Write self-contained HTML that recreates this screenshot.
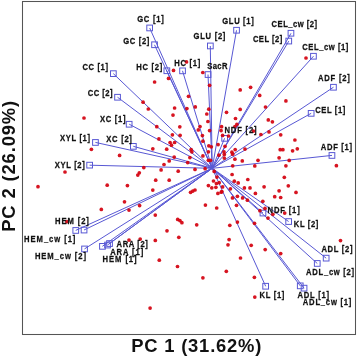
<!DOCTYPE html><html><head><meta charset="utf-8"><style>html,body{margin:0;padding:0;background:#fff;width:358px;height:356px;overflow:hidden}svg{display:block;will-change:transform}text{font-family:"Liberation Sans", sans-serif;font-weight:bold}</style></head><body>
<svg width="358" height="356" viewBox="0 0 358 356">
<rect x="0" y="0" width="358" height="356" fill="#fff"/>
<g stroke="#5858d4" stroke-width="1.0" fill="none">
<line x1="212.2" y1="168.3" x2="149.7" y2="28.0"/>
<line x1="212.2" y1="168.3" x2="154.5" y2="44.8"/>
<line x1="212.2" y1="168.3" x2="166.8" y2="70.7"/>
<line x1="212.2" y1="168.3" x2="182.5" y2="70.8"/>
<line x1="212.2" y1="168.3" x2="210.3" y2="46.0"/>
<line x1="212.2" y1="168.3" x2="208.0" y2="74.5"/>
<line x1="212.2" y1="168.3" x2="236.5" y2="30.3"/>
<line x1="212.2" y1="168.3" x2="291.0" y2="33.3"/>
<line x1="212.2" y1="168.3" x2="288.8" y2="41.1"/>
<line x1="212.2" y1="168.3" x2="313.5" y2="56.2"/>
<line x1="212.2" y1="168.3" x2="333.5" y2="87.2"/>
<line x1="212.2" y1="168.3" x2="311.2" y2="113.3"/>
<line x1="212.2" y1="168.3" x2="224.6" y2="138.3"/>
<line x1="212.2" y1="168.3" x2="332.0" y2="155.4"/>
<line x1="212.2" y1="168.3" x2="113.3" y2="73.6"/>
<line x1="212.2" y1="168.3" x2="117.5" y2="97.2"/>
<line x1="212.2" y1="168.3" x2="129.2" y2="124.2"/>
<line x1="212.2" y1="168.3" x2="133.3" y2="146.3"/>
<line x1="212.2" y1="168.3" x2="95.4" y2="142.4"/>
<line x1="212.2" y1="168.3" x2="89.6" y2="165.2"/>
<line x1="212.2" y1="168.3" x2="84.0" y2="230.0"/>
<line x1="212.2" y1="168.3" x2="75.7" y2="230.4"/>
<line x1="212.2" y1="168.3" x2="84.5" y2="248.9"/>
<line x1="212.2" y1="168.3" x2="102.4" y2="246.3"/>
<line x1="212.2" y1="168.3" x2="107.5" y2="245.0"/>
<line x1="212.2" y1="168.3" x2="109.5" y2="243.5"/>
<line x1="212.2" y1="168.3" x2="263.0" y2="213.1"/>
<line x1="212.2" y1="168.3" x2="288.6" y2="221.5"/>
<line x1="212.2" y1="168.3" x2="326.2" y2="258.2"/>
<line x1="212.2" y1="168.3" x2="317.3" y2="263.5"/>
<line x1="212.2" y1="168.3" x2="265.7" y2="286.3"/>
<line x1="212.2" y1="168.3" x2="300.3" y2="285.9"/>
<line x1="212.2" y1="168.3" x2="304.1" y2="288.2"/>
</g>
<g stroke="#5858d4" stroke-width="1.0" fill="none">
<rect x="146.8" y="25.1" width="5.7" height="5.7"/>
<rect x="151.7" y="41.9" width="5.7" height="5.7"/>
<rect x="164.0" y="67.9" width="5.7" height="5.7"/>
<rect x="179.7" y="68.0" width="5.7" height="5.7"/>
<rect x="207.5" y="43.1" width="5.7" height="5.7"/>
<rect x="205.2" y="71.7" width="5.7" height="5.7"/>
<rect x="233.7" y="27.4" width="5.7" height="5.7"/>
<rect x="288.1" y="30.4" width="5.7" height="5.7"/>
<rect x="285.9" y="38.2" width="5.7" height="5.7"/>
<rect x="310.6" y="53.4" width="5.7" height="5.7"/>
<rect x="330.6" y="84.4" width="5.7" height="5.7"/>
<rect x="308.3" y="110.5" width="5.7" height="5.7"/>
<rect x="221.8" y="135.5" width="5.7" height="5.7"/>
<rect x="329.1" y="152.6" width="5.7" height="5.7"/>
<rect x="110.5" y="70.8" width="5.7" height="5.7"/>
<rect x="114.7" y="94.4" width="5.7" height="5.7"/>
<rect x="126.3" y="121.4" width="5.7" height="5.7"/>
<rect x="130.5" y="143.5" width="5.7" height="5.7"/>
<rect x="92.6" y="139.6" width="5.7" height="5.7"/>
<rect x="86.8" y="162.3" width="5.7" height="5.7"/>
<rect x="81.2" y="227.2" width="5.7" height="5.7"/>
<rect x="72.9" y="227.6" width="5.7" height="5.7"/>
<rect x="81.7" y="246.1" width="5.7" height="5.7"/>
<rect x="99.6" y="243.5" width="5.7" height="5.7"/>
<rect x="104.7" y="242.2" width="5.7" height="5.7"/>
<rect x="106.7" y="240.7" width="5.7" height="5.7"/>
<rect x="260.1" y="210.2" width="5.7" height="5.7"/>
<rect x="285.8" y="218.7" width="5.7" height="5.7"/>
<rect x="323.3" y="255.3" width="5.7" height="5.7"/>
<rect x="314.4" y="260.6" width="5.7" height="5.7"/>
<rect x="262.8" y="283.4" width="5.7" height="5.7"/>
<rect x="297.4" y="283.0" width="5.7" height="5.7"/>
<rect x="301.2" y="285.3" width="5.7" height="5.7"/>
</g>
<g fill="#d4000e" fill-opacity="0.92">
<circle cx="306.0" cy="58.0" r="1.85"/>
<circle cx="285.9" cy="100.9" r="1.85"/>
<circle cx="280.7" cy="134.8" r="1.85"/>
<circle cx="294.9" cy="140.0" r="1.85"/>
<circle cx="280.2" cy="149.7" r="1.85"/>
<circle cx="282.9" cy="149.7" r="1.85"/>
<circle cx="292.6" cy="150.8" r="1.85"/>
<circle cx="297.3" cy="148.8" r="1.85"/>
<circle cx="279.1" cy="157.8" r="1.85"/>
<circle cx="289.2" cy="160.4" r="1.85"/>
<circle cx="285.9" cy="165.8" r="1.85"/>
<circle cx="336.4" cy="165.7" r="1.85"/>
<circle cx="284.3" cy="177.3" r="1.85"/>
<circle cx="288.3" cy="185.8" r="1.85"/>
<circle cx="279.1" cy="190.8" r="1.85"/>
<circle cx="296.0" cy="192.4" r="1.85"/>
<circle cx="280.7" cy="197.5" r="1.85"/>
<circle cx="284.7" cy="213.1" r="1.85"/>
<circle cx="340.5" cy="240.6" r="1.85"/>
<circle cx="280.7" cy="253.6" r="1.85"/>
<circle cx="240.5" cy="258.0" r="1.85"/>
<circle cx="226.3" cy="271.3" r="1.85"/>
<circle cx="254.4" cy="277.3" r="1.85"/>
<circle cx="254.8" cy="297.1" r="1.85"/>
<circle cx="217.9" cy="193.4" r="1.85"/>
<circle cx="221.2" cy="192.2" r="1.85"/>
<circle cx="255.4" cy="193.4" r="1.85"/>
<circle cx="232.5" cy="197.9" r="1.85"/>
<circle cx="237.4" cy="196.3" r="1.85"/>
<circle cx="242.6" cy="197.9" r="1.85"/>
<circle cx="247.4" cy="200.2" r="1.85"/>
<circle cx="262.8" cy="201.3" r="1.85"/>
<circle cx="274.7" cy="196.7" r="1.85"/>
<circle cx="236.5" cy="205.3" r="1.85"/>
<circle cx="216.7" cy="208.0" r="1.85"/>
<circle cx="259.9" cy="210.7" r="1.85"/>
<circle cx="272.8" cy="214.3" r="1.85"/>
<circle cx="265.0" cy="208.4" r="1.85"/>
<circle cx="268.0" cy="218.1" r="1.85"/>
<circle cx="229.8" cy="225.3" r="1.85"/>
<circle cx="237.4" cy="222.1" r="1.85"/>
<circle cx="254.5" cy="223.3" r="1.85"/>
<circle cx="229.1" cy="239.6" r="1.85"/>
<circle cx="228.0" cy="244.8" r="1.85"/>
<circle cx="251.2" cy="245.3" r="1.85"/>
<circle cx="265.2" cy="249.6" r="1.85"/>
<circle cx="84.0" cy="118.0" r="1.85"/>
<circle cx="91.4" cy="149.3" r="1.85"/>
<circle cx="65.0" cy="172.0" r="1.85"/>
<circle cx="38.0" cy="186.7" r="1.85"/>
<circle cx="66.8" cy="221.7" r="1.85"/>
<circle cx="101.3" cy="209.4" r="1.85"/>
<circle cx="124.5" cy="201.8" r="1.85"/>
<circle cx="129.0" cy="210.1" r="1.85"/>
<circle cx="139.6" cy="205.6" r="1.85"/>
<circle cx="155.3" cy="215.1" r="1.85"/>
<circle cx="129.0" cy="240.1" r="1.85"/>
<circle cx="140.2" cy="239.1" r="1.85"/>
<circle cx="155.3" cy="240.4" r="1.85"/>
<circle cx="159.3" cy="260.2" r="1.85"/>
<circle cx="177.5" cy="266.5" r="1.85"/>
<circle cx="202.9" cy="277.8" r="1.85"/>
<circle cx="150.1" cy="308.1" r="1.85"/>
<circle cx="173.5" cy="70.4" r="1.85"/>
<circle cx="186.5" cy="61.9" r="1.85"/>
<circle cx="202.8" cy="72.5" r="1.85"/>
<circle cx="168.5" cy="78.4" r="1.85"/>
<circle cx="154.6" cy="82.0" r="1.85"/>
<circle cx="143.1" cy="102.2" r="1.85"/>
<circle cx="148.3" cy="109.0" r="1.85"/>
<circle cx="174.6" cy="108.0" r="1.85"/>
<circle cx="173.0" cy="115.1" r="1.85"/>
<circle cx="156.8" cy="126.7" r="1.85"/>
<circle cx="172.4" cy="134.8" r="1.85"/>
<circle cx="158.9" cy="138.9" r="1.85"/>
<circle cx="179.8" cy="126.8" r="1.85"/>
<circle cx="209.6" cy="85.3" r="1.85"/>
<circle cx="188.5" cy="96.3" r="1.85"/>
<circle cx="186.9" cy="108.6" r="1.85"/>
<circle cx="195.3" cy="106.9" r="1.85"/>
<circle cx="208.8" cy="109.2" r="1.85"/>
<circle cx="206.8" cy="114.0" r="1.85"/>
<circle cx="226.5" cy="112.3" r="1.85"/>
<circle cx="240.2" cy="89.9" r="1.85"/>
<circle cx="250.6" cy="87.3" r="1.85"/>
<circle cx="259.7" cy="95.4" r="1.85"/>
<circle cx="265.5" cy="107.0" r="1.85"/>
<circle cx="240.2" cy="109.4" r="1.85"/>
<circle cx="235.5" cy="118.5" r="1.85"/>
<circle cx="268.3" cy="119.9" r="1.85"/>
<circle cx="272.4" cy="121.8" r="1.85"/>
<circle cx="170.1" cy="142.5" r="1.85"/>
<circle cx="174.6" cy="142.5" r="1.85"/>
<circle cx="171.5" cy="145.2" r="1.85"/>
<circle cx="152.8" cy="148.8" r="1.85"/>
<circle cx="166.7" cy="149.2" r="1.85"/>
<circle cx="119.6" cy="155.4" r="1.85"/>
<circle cx="174.2" cy="157.1" r="1.85"/>
<circle cx="169.2" cy="160.9" r="1.85"/>
<circle cx="164.0" cy="164.5" r="1.85"/>
<circle cx="143.8" cy="167.6" r="1.85"/>
<circle cx="161.1" cy="169.9" r="1.85"/>
<circle cx="178.2" cy="171.2" r="1.85"/>
<circle cx="139.3" cy="172.8" r="1.85"/>
<circle cx="137.8" cy="175.1" r="1.85"/>
<circle cx="155.7" cy="180.2" r="1.85"/>
<circle cx="169.2" cy="180.2" r="1.85"/>
<circle cx="107.2" cy="185.2" r="1.85"/>
<circle cx="127.4" cy="185.6" r="1.85"/>
<circle cx="152.8" cy="190.1" r="1.85"/>
<circle cx="177.7" cy="219.4" r="1.85"/>
<circle cx="179.9" cy="220.6" r="1.85"/>
<circle cx="181.9" cy="222.7" r="1.85"/>
<circle cx="167.0" cy="230.8" r="1.85"/>
<circle cx="178.8" cy="237.3" r="1.85"/>
<circle cx="207.9" cy="121.5" r="1.85"/>
<circle cx="200.0" cy="126.5" r="1.85"/>
<circle cx="198.3" cy="129.9" r="1.85"/>
<circle cx="209.6" cy="130.6" r="1.85"/>
<circle cx="221.6" cy="126.7" r="1.85"/>
<circle cx="221.1" cy="130.6" r="1.85"/>
<circle cx="180.1" cy="135.3" r="1.85"/>
<circle cx="202.4" cy="135.6" r="1.85"/>
<circle cx="222.6" cy="135.4" r="1.85"/>
<circle cx="228.5" cy="136.0" r="1.85"/>
<circle cx="202.9" cy="141.2" r="1.85"/>
<circle cx="218.1" cy="144.6" r="1.85"/>
<circle cx="208.8" cy="145.8" r="1.85"/>
<circle cx="211.3" cy="146.8" r="1.85"/>
<circle cx="225.0" cy="146.3" r="1.85"/>
<circle cx="191.1" cy="149.6" r="1.85"/>
<circle cx="191.9" cy="151.8" r="1.85"/>
<circle cx="208.4" cy="151.8" r="1.85"/>
<circle cx="224.0" cy="151.9" r="1.85"/>
<circle cx="189.9" cy="157.6" r="1.85"/>
<circle cx="202.9" cy="155.9" r="1.85"/>
<circle cx="218.9" cy="155.2" r="1.85"/>
<circle cx="224.3" cy="154.5" r="1.85"/>
<circle cx="224.3" cy="158.1" r="1.85"/>
<circle cx="187.7" cy="162.6" r="1.85"/>
<circle cx="208.4" cy="160.3" r="1.85"/>
<circle cx="210.5" cy="160.3" r="1.85"/>
<circle cx="195.0" cy="169.4" r="1.85"/>
<circle cx="236.9" cy="124.3" r="1.85"/>
<circle cx="234.9" cy="126.5" r="1.85"/>
<circle cx="253.4" cy="131.1" r="1.85"/>
<circle cx="260.9" cy="134.5" r="1.85"/>
<circle cx="269.0" cy="131.9" r="1.85"/>
<circle cx="235.2" cy="149.6" r="1.85"/>
<circle cx="245.0" cy="149.1" r="1.85"/>
<circle cx="231.9" cy="152.2" r="1.85"/>
<circle cx="232.7" cy="154.2" r="1.85"/>
<circle cx="234.9" cy="159.2" r="1.85"/>
<circle cx="242.3" cy="160.9" r="1.85"/>
<circle cx="258.0" cy="160.3" r="1.85"/>
<circle cx="232.7" cy="165.8" r="1.85"/>
<circle cx="254.8" cy="165.9" r="1.85"/>
<circle cx="232.1" cy="174.5" r="1.85"/>
<circle cx="247.8" cy="179.5" r="1.85"/>
<circle cx="234.3" cy="181.2" r="1.85"/>
<circle cx="238.2" cy="182.9" r="1.85"/>
<circle cx="244.4" cy="187.9" r="1.85"/>
<circle cx="250.0" cy="187.9" r="1.85"/>
<circle cx="264.1" cy="186.8" r="1.85"/>
<circle cx="230.4" cy="188.8" r="1.85"/>
<circle cx="205.1" cy="168.7" r="1.85"/>
<circle cx="214.2" cy="171.4" r="1.85"/>
<circle cx="216.9" cy="177.1" r="1.85"/>
<circle cx="213.5" cy="181.0" r="1.85"/>
<circle cx="216.4" cy="183.5" r="1.85"/>
<circle cx="219.2" cy="182.7" r="1.85"/>
<circle cx="208.4" cy="185.6" r="1.85"/>
<circle cx="211.8" cy="187.8" r="1.85"/>
<circle cx="215.9" cy="187.3" r="1.85"/>
<circle cx="222.6" cy="186.9" r="1.85"/>
<circle cx="221.9" cy="191.6" r="1.85"/>
<circle cx="195.0" cy="190.0" r="1.85"/>
<circle cx="192.8" cy="191.1" r="1.85"/>
<circle cx="190.6" cy="192.3" r="1.85"/>
<circle cx="205.4" cy="205.1" r="1.85"/>
<circle cx="196.7" cy="224.8" r="1.85"/>
</g>
<g fill="#111" stroke="#111" stroke-width="0.25" font-size="8.3">
<text transform="translate(137.20,21.50) scale(0.920,1)" textLength="28.91" lengthAdjust="spacing">GC [1]</text>
<text transform="translate(123.20,44.20) scale(0.920,1)" textLength="28.48" lengthAdjust="spacing">GC [2]</text>
<text transform="translate(136.20,69.70) scale(0.920,1)" textLength="28.26" lengthAdjust="spacing">HC [2]</text>
<text transform="translate(174.20,66.30) scale(0.920,1)" textLength="28.48" lengthAdjust="spacing">HC [1]</text>
<text transform="translate(193.60,38.70) scale(0.920,1)" textLength="34.57" lengthAdjust="spacing">GLU [2]</text>
<text transform="translate(207.20,69.30) scale(0.920,1)" textLength="21.96" lengthAdjust="spacing">SacR</text>
<text transform="translate(222.30,24.40) scale(0.920,1)" textLength="34.13" lengthAdjust="spacing">GLU [1]</text>
<text transform="translate(271.60,26.90) scale(0.920,1)" textLength="49.46" lengthAdjust="spacing">CEL_cw [2]</text>
<text transform="translate(252.90,42.20) scale(0.920,1)" textLength="31.85" lengthAdjust="spacing">CEL [2]</text>
<text transform="translate(302.30,50.00) scale(0.920,1)" textLength="50.11" lengthAdjust="spacing">CEL_cw [1]</text>
<text transform="translate(318.00,81.20) scale(0.920,1)" textLength="34.67" lengthAdjust="spacing">ADF [2]</text>
<text transform="translate(315.20,113.10) scale(0.920,1)" textLength="32.72" lengthAdjust="spacing">CEL [1]</text>
<text transform="translate(224.50,132.80) scale(0.920,1)" textLength="34.78" lengthAdjust="spacing">NDF [2]</text>
<text transform="translate(320.70,149.90) scale(0.920,1)" textLength="34.13" lengthAdjust="spacing">ADF [1]</text>
<text transform="translate(82.50,70.00) scale(0.920,1)" textLength="27.72" lengthAdjust="spacing">CC [1]</text>
<text transform="translate(87.70,95.50) scale(0.920,1)" textLength="26.96" lengthAdjust="spacing">CC [2]</text>
<text transform="translate(100.00,121.90) scale(0.920,1)" textLength="27.83" lengthAdjust="spacing">XC [1]</text>
<text transform="translate(106.30,141.50) scale(0.920,1)" textLength="27.83" lengthAdjust="spacing">XC [2]</text>
<text transform="translate(60.00,141.10) scale(0.920,1)" textLength="32.61" lengthAdjust="spacing">XYL [1]</text>
<text transform="translate(54.80,167.90) scale(0.920,1)" textLength="32.61" lengthAdjust="spacing">XYL [2]</text>
<text transform="translate(55.10,224.00) scale(0.920,1)" textLength="36.74" lengthAdjust="spacing">HEM [2]</text>
<text transform="translate(24.10,241.50) scale(0.920,1)" textLength="55.76" lengthAdjust="spacing">HEM_cw [1]</text>
<text transform="translate(34.90,258.90) scale(0.920,1)" textLength="55.54" lengthAdjust="spacing">HEM_cw [2]</text>
<text transform="translate(102.60,261.60) scale(0.920,1)" textLength="36.96" lengthAdjust="spacing">HEM [1]</text>
<text transform="translate(110.20,254.70) scale(0.920,1)" textLength="35.87" lengthAdjust="spacing">ARA [1]</text>
<text transform="translate(116.60,247.30) scale(0.920,1)" textLength="33.91" lengthAdjust="spacing">ARA [2]</text>
<text transform="translate(267.60,213.40) scale(0.920,1)" textLength="34.89" lengthAdjust="spacing">NDF [1]</text>
<text transform="translate(293.80,226.80) scale(0.920,1)" textLength="26.74" lengthAdjust="spacing">KL [2]</text>
<text transform="translate(321.40,252.00) scale(0.920,1)" textLength="33.91" lengthAdjust="spacing">ADL [2]</text>
<text transform="translate(306.10,274.60) scale(0.920,1)" textLength="52.17" lengthAdjust="spacing">ADL_cw [2]</text>
<text transform="translate(259.60,297.50) scale(0.920,1)" textLength="26.96" lengthAdjust="spacing">KL [1]</text>
<text transform="translate(297.40,298.20) scale(0.920,1)" textLength="34.35" lengthAdjust="spacing">ADL [1]</text>
<text transform="translate(302.80,305.40) scale(0.920,1)" textLength="52.83" lengthAdjust="spacing">ADL_cw [1]</text>
</g>
<rect x="22.5" y="1.5" width="333" height="333" fill="none" stroke="#555" stroke-width="1.05"/>
<text x="131.3" y="351.5" font-size="18.4" fill="#111" textLength="130" lengthAdjust="spacing">PC 1 (31.62%)</text>
<text transform="translate(15.1,231.8) rotate(-90)" x="0" y="0" font-size="18.4" fill="#111" textLength="131" lengthAdjust="spacing">PC 2 (26.09%)</text>
</svg></body></html>
